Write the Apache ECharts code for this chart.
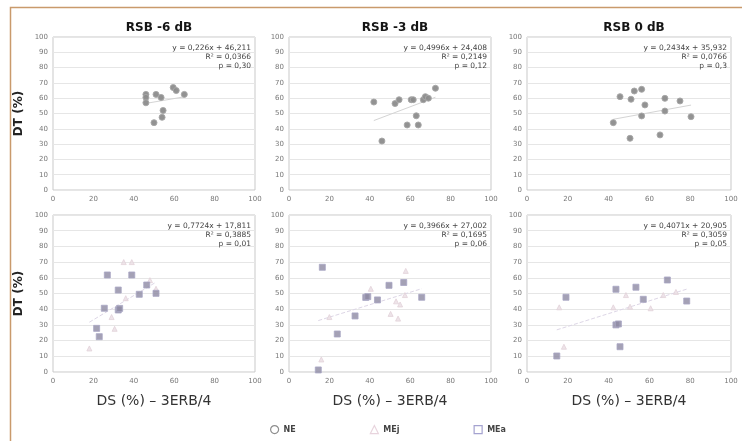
<!DOCTYPE html>
<html>
<head>
<meta charset="utf-8">
<script src="https://cdn.jsdelivr.net/npm/echarts@6/dist/echarts.min.js"></script>
<style>
  html, body { margin: 0; padding: 0; background: #fff; }
  #chart { width: 742px; height: 441px; }
</style>
</head>
<body>
<div id="chart"></div>
<script>
// Panel titles (signal-to-noise ratio conditions)
const panelTitles = ['RSB -6 dB', 'RSB -3 dB', 'RSB 0 dB'];

// Top row: NE group, DT (%) against DS (%)
const neM6 = [[46, 62.5], [46, 60.5], [46, 57], [51, 62.5], [53.5, 60.5], [54.5, 52], [54, 47.5], [50, 44], [59.5, 67], [61, 65], [65, 62.5]];
const neM3 = [[42, 57.5], [46, 32], [52.5, 56.5], [54.5, 59], [60.5, 59], [61.5, 59], [63, 48.5], [58.5, 42.5], [64, 42.5], [66.5, 59], [67.5, 61], [69, 60], [72.5, 66.5]];
const ne0 = [[45.6, 61], [51, 59.3], [52.6, 64.7], [56.2, 65.8], [57.8, 55.6], [56.2, 48.4], [42.3, 44], [50.5, 33.8], [65.2, 36], [67.6, 59.9], [67.6, 51.6], [75, 58.2], [80.4, 47.9]];

// Bottom row: MEa group, DT (%) against DS (%) - 3ERB/4
const meaM6 = [[26.9, 61.8], [39, 61.8], [32.3, 52.2], [46.4, 55.4], [42.7, 49.5], [51, 50.1], [25.4, 40.6], [32.3, 39.5], [33, 40.5], [21.6, 27.8], [22.9, 22.5]];
const meaM3 = [[16.5, 66.7], [14.5, 1.3], [23.9, 24.2], [32.7, 35.7], [38, 47.5], [39, 48], [43.8, 45.9], [49.5, 55.2], [56.8, 57], [65.7, 47.6]];
const mea0 = [[14.6, 10.2], [19.1, 47.6], [43.6, 52.7], [43.6, 30], [44.8, 30.6], [45.6, 16.1], [53.4, 54], [57, 46.3], [68.8, 58.6], [78.3, 45.2]];

// Bottom row: MEj group
const mejM6 = [[30.5, 27.5], [18, 15], [36, 47], [35, 70], [39, 70], [48, 58.5], [51, 53], [29, 35]];
const mejM3 = [[57.8, 64.4], [40.5, 53], [50.3, 37], [54, 34], [57.4, 49], [53, 45], [55, 43], [16, 8], [20, 35]];
const mej0 = [[15.8, 41.2], [18.1, 16.1], [48.5, 49], [42.3, 41.2], [50.5, 41.6], [66.8, 49], [60.6, 40.6], [73, 51]];

// Linear fits: slope, intercept, and the printed statistics
const fitSlope = [0.226, 0.4996, 0.2434, 0.7724, 0.3966, 0.4071];
const fitIntercept = [46.211, 24.408, 35.932, 17.811, 27.002, 20.905];
const fitEquation = ['y = 0,226x + 46,211', 'y = 0,4996x + 24,408', 'y = 0,2434x + 35,932',
                     'y = 0,7724x + 17,811', 'y = 0,3966x + 27,002', 'y = 0,4071x + 20,905'];
const fitR2 = ['R² = 0,0366', 'R² = 0,2149', 'R² = 0,0766', 'R² = 0,3885', 'R² = 0,1695', 'R² = 0,3059'];
const fitP = ['p = 0,30', 'p = 0,12', 'p = 0,3', 'p = 0,01', 'p = 0,06', 'p = 0,05'];

const xTicks = [0, 20, 40, 60, 80, 100];
const yTicks = [0, 10, 20, 30, 40, 50, 60, 70, 80, 90, 100];

const FONT = 'DejaVu Sans';
const gridBoxes = [
  { left: 53, top: 37, width: 202, height: 153 },
  { left: 289, top: 37, width: 202, height: 153 },
  { left: 527, top: 37, width: 204, height: 153 },
  { left: 53, top: 215, width: 202, height: 157 },
  { left: 289, top: 215, width: 202, height: 157 },
  { left: 527, top: 215, width: 204, height: 157 }
];

const panelPoints = [
  [neM6], [neM3], [ne0],
  [meaM6, mejM6], [meaM3, mejM3], [mea0, mej0]
];

function trend(i) {
  const xs = [].concat(...panelPoints[i]).map(p => p[0]);
  const lo = Math.min(...xs), hi = Math.max(...xs);
  return [[lo, fitSlope[i] * lo + fitIntercept[i]], [hi, fitSlope[i] * hi + fitIntercept[i]]];
}

const grids = gridBoxes.map(b => Object.assign({ show: true, borderColor: '#c9c9c9', borderWidth: 1, backgroundColor: '#fff' }, b));

const xAxes = gridBoxes.map((b, i) => ({
  gridIndex: i, type: 'value', min: 0, max: 100, interval: 20,
  axisLine: { show: false }, axisTick: { show: false }, splitLine: { show: false },
  axisLabel: { fontFamily: FONT, fontSize: 7, color: '#777', margin: 6,
               formatter: v => xTicks.includes(v) ? String(v) : '' },
  name: i >= 3 ? 'DS (%) – 3ERB/4' : '', nameLocation: 'middle', nameGap: 22,
  nameTextStyle: { fontFamily: FONT, fontSize: 14, color: '#333' }
}));

const yAxes = gridBoxes.map((b, i) => ({
  gridIndex: i, type: 'value', min: 0, max: 100, interval: 10,
  axisLine: { show: false }, axisTick: { show: false },
  splitLine: { show: true, lineStyle: { color: '#e6e6e6', width: 1 } },
  axisLabel: { fontFamily: FONT, fontSize: 7, color: '#777', margin: 5,
               formatter: v => yTicks.includes(v) ? String(v) : '' },
  name: (i === 0 || i === 3) ? 'DT (%)' : '', nameLocation: 'middle', nameGap: 28, nameRotate: 90,
  nameTextStyle: { fontFamily: FONT, fontSize: 12, fontWeight: 'bold', color: '#222' }
}));

const series = [];
// trend lines
for (let i = 0; i < 6; i++) {
  series.push({
    type: 'line', xAxisIndex: i, yAxisIndex: i, data: trend(i), symbol: 'none', silent: true,
    lineStyle: { color: i < 3 ? '#d4d4d4' : '#ddd6e6', width: 1, type: i < 3 ? 'solid' : 'dashed' },
    z: 1
  });
}
// NE points
[neM6, neM3, ne0].forEach((d, i) => series.push({
  name: 'NE', type: 'scatter', xAxisIndex: i, yAxisIndex: i, data: d,
  symbol: 'circle', symbolSize: 6,
  itemStyle: { color: '#8c8c8c', borderColor: '#a8a8a8', borderWidth: 1, opacity: 0.95 }, z: 3
}));
// MEj points
[mejM6, mejM3, mej0].forEach((d, i) => series.push({
  name: 'MEj', type: 'scatter', xAxisIndex: i + 3, yAxisIndex: i + 3, data: d,
  symbol: 'triangle', symbolSize: 5,
  itemStyle: { color: '#eadde3', borderColor: '#e2d2da', borderWidth: 1 }, z: 2
}));
// MEa points
[meaM6, meaM3, mea0].forEach((d, i) => series.push({
  name: 'MEa', type: 'scatter', xAxisIndex: i + 3, yAxisIndex: i + 3, data: d,
  symbol: 'rect', symbolSize: 6,
  itemStyle: { color: '#8d8aa3', borderColor: '#a9a6c4', borderWidth: 1 }, z: 3
}));

const titles = panelTitles.map((t, i) => ({
  text: t, left: gridBoxes[i].left + gridBoxes[i].width / 2, top: 17, textAlign: 'center',
  textStyle: { fontFamily: FONT, fontSize: 12, fontWeight: 'bold', color: '#151515' }
}));

const graphics = [{
  type: 'rect', shape: { x: 10.5, y: 7.5, width: 800, height: 500 },
  style: { fill: 'none', stroke: '#c99a6c', lineWidth: 1.5 }, silent: true, z: -1
}];
gridBoxes.forEach((b, i) => {
  [fitEquation[i], fitR2[i], fitP[i]].forEach((txt, k) => {
    graphics.push({
      type: 'text', x: b.left + b.width - 4, y: b.top + 7 + k * 9,
      style: { text: txt, fontFamily: FONT, fontSize: 7.5, fill: '#444', textAlign: 'right', textVerticalAlign: 'top' },
      silent: true, z: 10
    });
  });
});

const chart = echarts.init(document.getElementById('chart'), null, { renderer: 'canvas' });
chart.setOption({
  animation: false,
  backgroundColor: '#fff',
  title: titles,
  grid: grids,
  xAxis: xAxes,
  yAxis: yAxes,
  legend: {
    left: 265, top: 420, itemGap: 74, itemWidth: 8, itemHeight: 8,
    textStyle: { fontFamily: FONT, fontSize: 8, color: '#444', fontWeight: 'bold' },
    data: [
      { name: 'NE', icon: 'circle', itemStyle: { color: '#fff', borderColor: '#888', borderWidth: 1.2 } },
      { name: 'MEj', icon: 'triangle', itemStyle: { color: '#fff', borderColor: '#e2c9d4', borderWidth: 1.2 } },
      { name: 'MEa', icon: 'rect', itemStyle: { color: '#fff', borderColor: '#8f8cc4', borderWidth: 1.2 } }
    ]
  },
  graphic: graphics,
  series: series
});
</script>
</body>
</html>
